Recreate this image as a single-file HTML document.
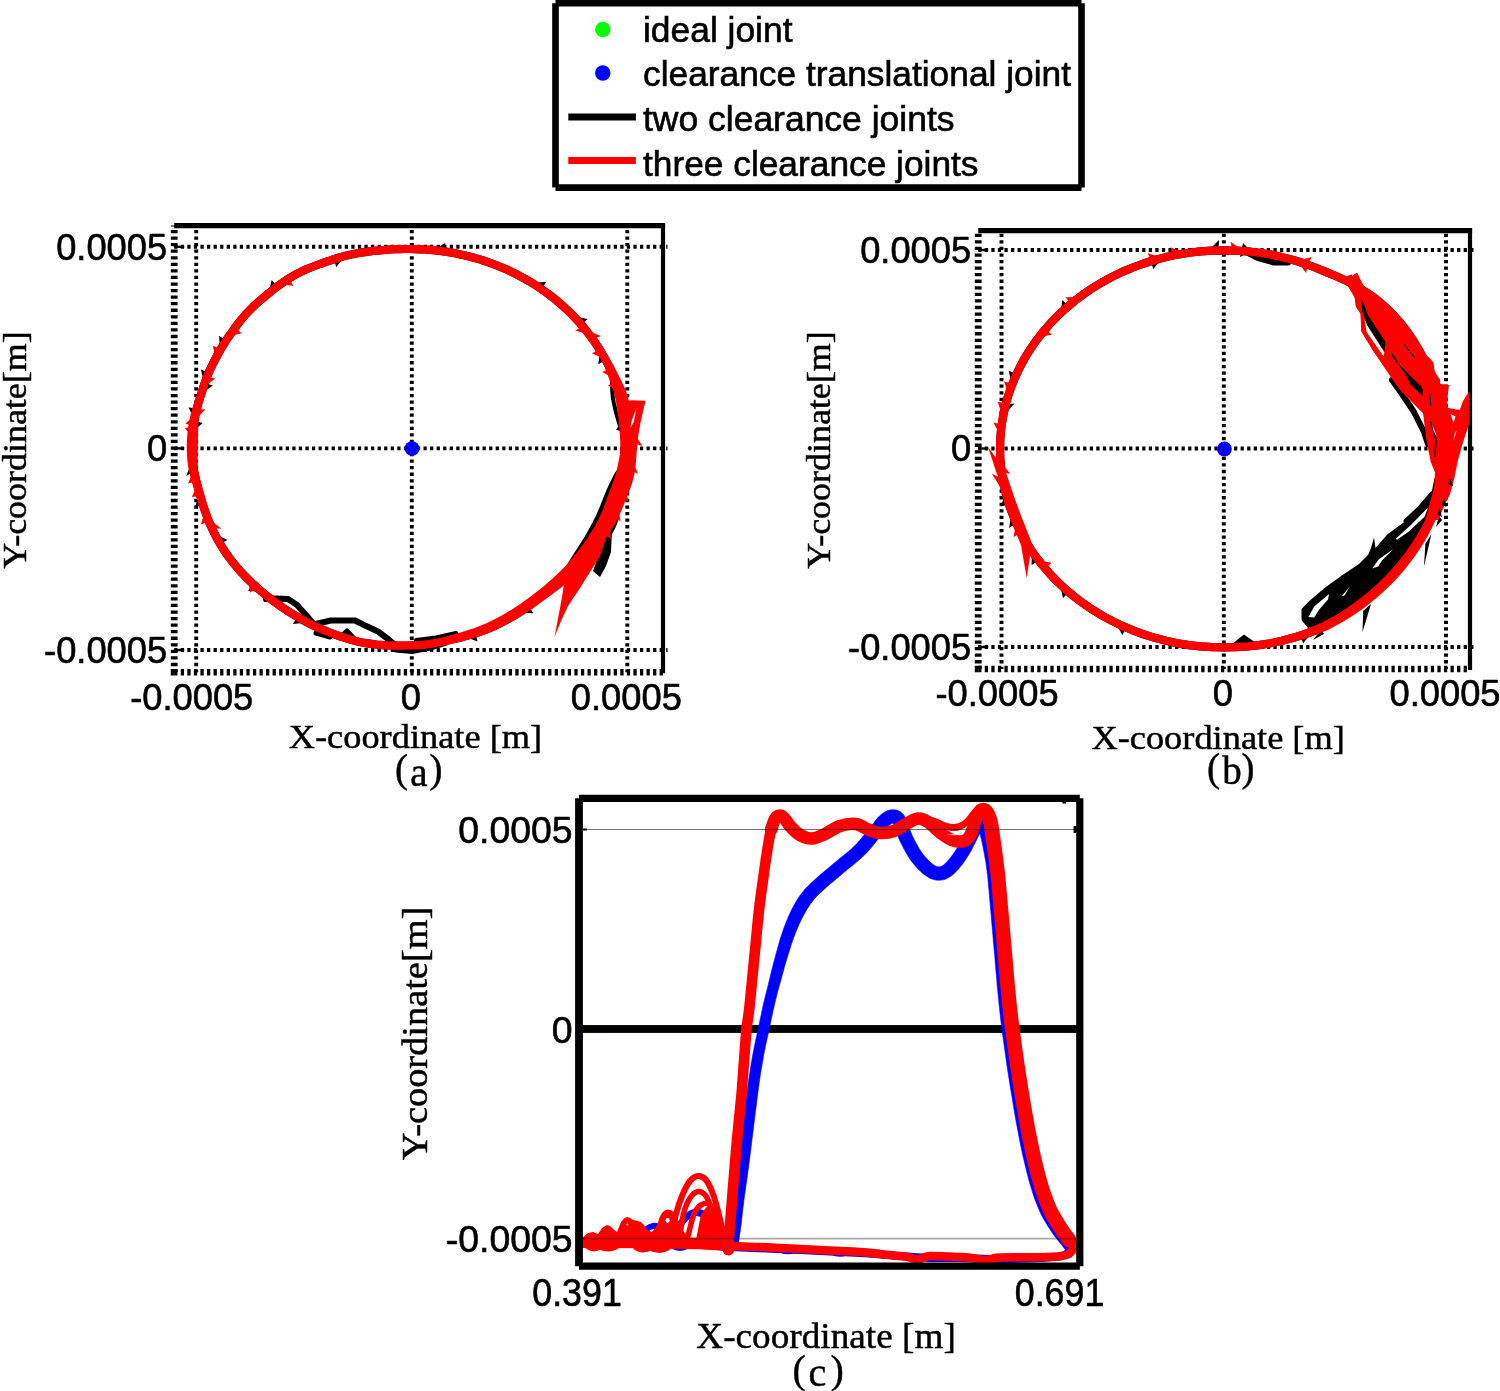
<!DOCTYPE html>
<html lang="en">
<head>
<meta charset="utf-8">
<title>Clearance joint trajectories</title>
<style>
html,body{margin:0;padding:0;background:#fff;}
body{width:1500px;height:1391px;overflow:hidden;}
svg{display:block;}
.sans{font-family:"Liberation Sans",Arial,Helvetica,sans-serif;fill:#000;stroke:#000;stroke-width:0.6;}
.serif{font-family:"Liberation Serif","Times New Roman",Times,serif;fill:#000;stroke:#000;stroke-width:0.45;}
.k{stroke:#000;fill:none;}
.r{stroke:#f00;fill:none;stroke-linejoin:round;stroke-linecap:round;}
.b{stroke:#00f;fill:none;stroke-linejoin:round;stroke-linecap:round;}
.kk{stroke:#000;fill:none;stroke-linejoin:round;stroke-linecap:round;}
.rf{fill:#f00;stroke:none;}
.kf{fill:#000;stroke:none;}
</style>
</head>
<body>
<svg width="1500" height="1391" viewBox="0 0 1500 1391">
<rect x="0" y="0" width="1500" height="1391" fill="#fff"/>

<g id="legend">
<path d="M555.5 3.3 H1081.5 M1081.5 3.3 V187.6 M1081.5 187.6 H555.5 M555.5 187.6 V3.3" fill="none" stroke="#000" stroke-width="6.6" stroke-linecap="butt"/>
<circle cx="602.8" cy="29.5" r="7.7" fill="#0f0"/>
<circle cx="602.8" cy="73" r="7.7" fill="#00f"/>
<line x1="568.3" y1="117" x2="635.9" y2="117" stroke="#000" stroke-width="6.9"/>
<line x1="568.3" y1="160.5" x2="635.9" y2="160.5" stroke="#f00" stroke-width="6.9"/>
<text class="sans" x="643" y="41.7" font-size="34.8" textLength="149.5" lengthAdjust="spacingAndGlyphs">ideal joint</text>
<text class="sans" x="643" y="86.3" font-size="34.8" textLength="428" lengthAdjust="spacingAndGlyphs">clearance translational joint</text>
<text class="sans" x="643" y="130.8" font-size="34.8" textLength="311.5" lengthAdjust="spacingAndGlyphs">two clearance joints</text>
<text class="sans" x="643" y="175.7" font-size="34.8" textLength="335.5" lengthAdjust="spacingAndGlyphs">three clearance joints</text>
</g>
<g id="axes-a">
<line class="k" x1="196.2" y1="225.6" x2="196.2" y2="672.3" stroke-width="3.9" stroke-dasharray="3.28 3.28" stroke-dashoffset="2.26"/>
<line class="k" x1="411.8" y1="225.6" x2="411.8" y2="672.3" stroke-width="3.9" stroke-dasharray="3.28 3.28" stroke-dashoffset="2.26"/>
<line class="k" x1="627.3" y1="225.6" x2="627.3" y2="672.3" stroke-width="3.9" stroke-dasharray="3.28 3.28" stroke-dashoffset="2.26"/>
<line class="k" x1="174.2" y1="246.8" x2="667.5" y2="246.8" stroke-width="3.9" stroke-dasharray="3.28 3.28"/>
<line class="k" x1="174.2" y1="448.4" x2="667.5" y2="448.4" stroke-width="3.9" stroke-dasharray="3.28 3.28"/>
<line class="k" x1="174.2" y1="650" x2="667.5" y2="650" stroke-width="3.9" stroke-dasharray="3.28 3.28"/>
<line class="k" x1="174.2" y1="246.8" x2="184.2" y2="246.8" stroke-width="2.4"/>
<line class="k" x1="174.2" y1="448.4" x2="184.2" y2="448.4" stroke-width="2.4"/>
<line class="k" x1="174.2" y1="650" x2="184.2" y2="650" stroke-width="2.4"/>
<line class="k" x1="174.2" y1="225.6" x2="665.1" y2="225.6" stroke-width="5.3"/>
<line class="k" x1="663" y1="223.1" x2="663" y2="673.3" stroke-width="4.2"/>
<line class="k" x1="174.2" y1="225.6" x2="174.2" y2="670.3" stroke-width="6.8" stroke-dasharray="3.28 3.28" stroke-dashoffset="2.26"/>
<line class="k" x1="174.2" y1="672.3" x2="663" y2="672.3" stroke-width="6.6" stroke-dasharray="3.28 3.28"/>
<path class="kf" d="M170.8 669 h6.8 v3.3 h-3.4 v3.3 h-3.4 Z"/>
<text class="sans" font-size="36.3" text-anchor="end" x="167.2" y="259.6">0.0005</text>
<text class="sans" font-size="36.3" text-anchor="end" x="167.2" y="460.7">0</text>
<text class="sans" font-size="36.3" text-anchor="end" x="167.2" y="662.8">-0.0005</text>
<text class="sans" font-size="36.3" x="130.2" y="709.6">-0.0005</text>
<text class="sans" font-size="36.3" text-anchor="middle" x="410.8" y="709.6">0</text>
<text class="sans" font-size="36.3" x="570.8" y="709.6">0.0005</text>
<text class="serif" font-size="34.6" x="288.7" y="747.9" textLength="253.5" lengthAdjust="spacingAndGlyphs">X-coordinate [m]</text>
<text class="serif" font-size="34.6" transform="translate(26 568.8) rotate(-90)" x="0" y="0" textLength="237.5" lengthAdjust="spacingAndGlyphs">Y-coordinate[m]</text>
<text class="serif" font-size="39" x="395 410.2 429.6" y="782.4 785.6 782.4">(a)</text>
</g>
<g id="axes-b">
<line class="k" x1="1001.5" y1="230.6" x2="1001.5" y2="669" stroke-width="3.9" stroke-dasharray="3.28 3.28" stroke-dashoffset="3.46"/>
<line class="k" x1="1223.8" y1="230.6" x2="1223.8" y2="669" stroke-width="3.9" stroke-dasharray="3.28 3.28" stroke-dashoffset="3.46"/>
<line class="k" x1="1446" y1="230.6" x2="1446" y2="669" stroke-width="3.9" stroke-dasharray="3.28 3.28" stroke-dashoffset="3.46"/>
<line class="k" x1="978.2" y1="250" x2="1474.5" y2="250" stroke-width="3.9" stroke-dasharray="3.28 3.28"/>
<line class="k" x1="978.2" y1="448.5" x2="1474.5" y2="448.5" stroke-width="3.9" stroke-dasharray="3.28 3.28"/>
<line class="k" x1="978.2" y1="647" x2="1474.5" y2="647" stroke-width="3.9" stroke-dasharray="3.28 3.28"/>
<line class="k" x1="978.2" y1="250" x2="988.2" y2="250" stroke-width="2.4"/>
<line class="k" x1="978.2" y1="448.5" x2="988.2" y2="448.5" stroke-width="2.4"/>
<line class="k" x1="978.2" y1="647" x2="988.2" y2="647" stroke-width="2.4"/>
<line class="k" x1="978.2" y1="230.6" x2="1472.1" y2="230.6" stroke-width="5.3"/>
<line class="k" x1="1470" y1="228.1" x2="1470" y2="670" stroke-width="4.2"/>
<line class="k" x1="978.2" y1="230.6" x2="978.2" y2="667" stroke-width="6.8" stroke-dasharray="3.28 3.28" stroke-dashoffset="3.46"/>
<line class="k" x1="978.2" y1="669" x2="1470" y2="669" stroke-width="6.6" stroke-dasharray="3.28 3.28"/>
<path class="kf" d="M974.8 665.7 h6.8 v3.3 h-3.4 v3.3 h-3.4 Z"/>
<text class="sans" font-size="36.3" text-anchor="end" x="971.2" y="262.8">0.0005</text>
<text class="sans" font-size="36.3" text-anchor="end" x="971.2" y="460.8">0</text>
<text class="sans" font-size="36.3" text-anchor="end" x="971.2" y="659.8">-0.0005</text>
<text class="sans" font-size="36.3" x="935.5" y="706.4">-0.0005</text>
<text class="sans" font-size="36.3" text-anchor="middle" x="1222.8" y="706.4">0</text>
<text class="sans" font-size="36.3" x="1389.5" y="706.4">0.0005</text>
<text class="serif" font-size="34.6" x="1091.4" y="749" textLength="253.5" lengthAdjust="spacingAndGlyphs">X-coordinate [m]</text>
<text class="serif" font-size="34.6" transform="translate(830 568.8) rotate(-90)" x="0" y="0" textLength="237.5" lengthAdjust="spacingAndGlyphs">Y-coordinate[m]</text>
<text class="serif" font-size="39" x="1207 1222.2 1241.6" y="781 784.2 781">(b)</text>
</g>
<g id="curve-a">
<path class="kk" stroke-width="8.2" d="M410 249 L415 249.1 L420.1 249.3 L425.2 249.5 L430.3 249.9 L435.3 250.4 L440.3 250.9 L445.3 251.6 L450.3 252.4 L455.3 253.3 L460.3 254.4 L465.2 255.5 L470.1 256.7 L474.9 258 L479.8 259.4 L484.6 261 L489.3 262.6 L494 264.3 L498.7 266.2 L503.3 268.1 L507.8 270.1 L512.3 272.2 L516.8 274.4 L521.2 276.8 L525.5 279.1 L529.8 281.6 L534 284.2 L538.1 286.9 L542.2 289.7 L546.2 292.5 L550.1 295.4 L554 298.4 L557.7 301.5 L561.4 304.7 L565 307.9 L568.6 311.3 L572 314.6 L575.3 318.1 L578.6 321.6 L581.8 325.3 L584.9 328.9 L587.8 332.7 L590.7 336.5 L593.5 340.3 L596.2 344.3 L598.9 348.4 L601.4 352.5 L603.7 356.5 L605.9 360.4 L608 364.3 L609.9 368.3 L611.6 372.2 L613.3 375.9 L614.8 379.5 L616.1 382.8 L617.3 385.7 L618.3 388.1 L619.2 390.3 L620 392.5 L620.7 395 L621.5 398 L622.3 401.5 L623 405.3 L623.7 409.3 L624.4 413.5 L625 417.8 L625.5 422 L626 426.3 L626.5 430.7 L626.9 435.2 L627.2 439.7 L627.5 444 L627.5 448 L627.3 451.8 L627 455.4 L626.6 458.9 L626 462.1 L625.5 465.2 L625 468 L624.6 470.4 L624.1 472.4 L623.7 474.2 L623.2 475.9 L622.7 477.8 L622 480 L621.2 482.5 L620.3 485.1 L619.3 487.9 L618.3 490.9 L617.2 493.9 L616 497 L614.8 500.3 L613.6 503.7 L612.3 507.3 L611 510.9 L609.6 514.5 L608 518 L606.3 521.5 L604.6 524.9 L602.7 528.4 L600.7 531.8 L598.7 535.3 L596.5 538.7 L594.2 542.2 L591.7 545.7 L589.1 549.2 L586.5 552.7 L583.8 556 L581.3 559.2 L578.9 562.1 L576.7 564.8 L574.4 567.3 L572.1 569.9 L569.6 572.5 L566.7 575.3 L563.5 578.3 L560.2 581.4 L556.6 584.6 L552.9 587.8 L548.9 591.1 L544.7 594.4 L540.2 597.8 L535.4 601.3 L530.5 604.9 L525.4 608.4 L520.3 611.8 L515.3 614.9 L510.4 617.8 L505.5 620.4 L500.6 623 L495.8 625.4 L490.9 627.6 L486 629.6 L481.1 631.4 L476.2 633.1 L471.4 634.5 L466.5 635.9 L461.6 637.2 L456.7 638.4 L451.8 639.6 L446.8 640.8 L441.9 641.8 L436.9 642.8 L432.1 643.6 L427.3 644.3 L422.5 644.8 L417.8 645.2 L413.1 645.4 L408.5 645.5 L404.1 645.6 L400 645.6 L396.3 645.6 L392.8 645.6 L389.6 645.5 L386.5 645.3 L383.3 645.1 L380 644.8 L376.5 644.5 L373 644.1 L369.5 643.6 L365.9 643.1 L362.3 642.5 L358.6 641.7 L354.9 640.8 L351.1 639.8 L347.2 638.6 L343.3 637.4 L339.4 636.1 L335.3 634.6 L331.1 633 L326.9 631.4 L322.5 629.6 L318.1 627.7 L313.7 625.7 L309.4 623.6 L305 621.3 L300.6 618.8 L296.1 616.1 L291.7 613.4 L287.5 610.7 L283.5 608.1 L279.7 605.5 L276.1 603 L272.7 600.4 L269.3 597.9 L266 595.3 L262.8 592.6 L259.6 589.9 L256.5 587.1 L253.4 584.4 L250.4 581.6 L247.5 578.7 L244.7 575.8 L241.9 572.9 L239.2 569.9 L236.6 566.9 L234.1 563.9 L231.6 560.8 L229.2 557.6 L226.9 554.3 L224.6 551 L222.4 547.6 L220.2 544.1 L218.2 540.5 L216.2 536.9 L214.3 533.2 L212.5 529.4 L210.7 525.6 L209 521.6 L207.4 517.7 L205.9 513.6 L204.4 509.4 L203 505 L201.6 500.5 L200.4 496 L199.2 491.8 L198.1 487.8 L197.1 484.2 L196.2 480.8 L195.4 477.5 L194.7 474.4 L194.1 471.2 L193.6 468 L193.2 464.7 L192.8 461.3 L192.6 458 L192.4 454.7 L192.3 451.3 L192.3 448 L192.3 444.6 L192.4 441.3 L192.6 437.9 L192.8 434.5 L193.1 431.2 L193.4 428 L193.8 424.9 L194.2 421.8 L194.8 418.8 L195.3 415.9 L195.9 412.9 L196.6 410 L197.3 407.1 L198 404.4 L198.8 401.6 L199.7 398.8 L200.5 396 L201.5 393 L202.5 389.9 L203.5 386.7 L204.6 383.4 L205.8 380.1 L207 376.8 L208.4 373.4 L209.9 370 L211.6 366.5 L213.3 363 L215.1 359.5 L217 356 L218.8 352.7 L220.6 349.5 L222.3 346.5 L224.1 343.6 L226 340.6 L228 337.5 L230.3 334.3 L232.8 330.9 L235.4 327.2 L238.2 323.5 L241.1 319.8 L244.2 316.1 L247.5 312.5 L251 308.9 L254.7 305.3 L258.6 301.8 L262.6 298.3 L266.6 295 L270.5 291.8 L274.3 288.8 L278.2 285.9 L282 283.1 L285.8 280.5 L289.7 278 L293.5 275.7 L297.2 273.6 L300.8 271.8 L304.4 270.1 L308.2 268.5 L312.1 267 L316.5 265.3 L321.3 263.5 L326.6 261.7 L332.1 259.8 L337.7 258 L343.3 256.4 L348.7 255 L354 253.9 L359.2 252.9 L364.5 252.1 L369.7 251.4 L374.9 250.8 L380 250.3 L385.1 249.8 L390.1 249.5 L395.1 249.2 L400 249.1 L405 249 Z"/>
<path class="kk" stroke-width="6" d="M266 599 L276 598.5 L288 599 L297 605 L306 615 L314 624.5 L322 622.5 L331 620.5 L355 620.5 L364 625 L378 631.5 L388 639 L396 645.5"/>
<path class="kk" stroke-width="5" d="M340 638 L347 631 L356 641"/>
<path class="kk" stroke-width="5" d="M316 633 L330 637"/>
<path class="kk" stroke-width="5" d="M396 650 L412 651.5 L430 648 L446 643"/>
<path class="kk" stroke-width="4" d="M416 640 L436 637.5 L456 633"/>
<path class="kk" stroke-width="5" d="M626.6 458.9 L624 461.8 L622.5 464.7 L621.2 467.3 L620 469.5 L619 471.3 L618.1 472.7 L617.1 474.2 L616.2 475.8 L615.1 477.8 L614 480.1 L612.8 482.5 L611.5 485.2 L610.2 487.9 L608.9 490.8 L607.6 493.9 L606.2 497.2 L604.9 500.6 L603.5 504 L602.2 507.5 L600.8 510.8 L599.4 514 L597.9 517.3 L596.2 520.6 L594.6 523.9 L592.8 527.2 L591 530.5 L589.1 533.9 L587.1 537.3 L585 540.9 L582.7 544.5 L580.4 548 L578.2 551.5 L576 554.9 L574 558 L572.2 561 L570.5 563.8 L568.7 566.7 L566.8 569.7 L564.6 573.1 L562.2 576.8 L560.2 581.4"/>
<path class="kk" stroke-width="4" d="M613.3 375.9 L612 380.7 L612 384.5 L612.1 387.8 L612.3 390.5 L612.4 392.8 L612.6 395 L612.8 397.2 L613.3 400 L613.9 403.2 L614.7 406.8 L615.6 410.7 L616.7 414.7 L617.8 418.7 L619 422.8 L620.4 426.9 L622 431.2 L623.9 435.5 L627.2 439.7"/>
<path class="kf" d="M616 430 L621 422 L622 431 Z"/>
<path class="kf" d="M601 548 L612 530 L611 552 L606 566 L600 577 L593 571 Z"/>
<path class="kk" stroke-width="4" d="M614.8 500.3 L617.1 504.9 L617.5 509.1 L617.3 513.3 L616.7 517.5 L615.7 521.5 L614.3 525.4 L612.5 529.1 L610.5 532.7 L608 536.1 L605.3 539.3 L602.2 542.4 L598.7 545.3 L594.7 547.8 L589.1 549.2"/>
<path class="kf" d="M190.5 464.4 L186.2 476.3 L191.7 472.3 Z"/>
<path class="kf" d="M206.2 372.1 L200.9 369.2 L203.2 379.6 Z"/>
<path class="kf" d="M194.3 408.5 L188.5 407.2 L192.7 416.3 Z"/>
<path class="kf" d="M224.1 338.9 L219 335.7 L219.9 345.6 Z"/>
<path class="kf" d="M276 284.4 L271.7 280.1 L269.6 289.2 Z"/>
<path class="kf" d="M342.2 259.3 L336.3 267.3 L334.6 261.6 Z"/>
<path class="kf" d="M207.2 383.7 L212.8 385.6 L204.6 391.3 Z"/>
<path class="kf" d="M196.8 421.2 L202.6 422.9 L195.7 429.2 Z"/>
<path class="kf" d="M542.9 287 L546.2 282 L536.2 282.6 Z"/>
<path class="kf" d="M583.1 322.9 L587.6 318.9 L577.8 317 Z"/>
<path class="kf" d="M251.8 586.3 L247.8 590.8 L257.8 591.7 Z"/>
<path class="kf" d="M468.2 638.1 L477.6 641.6 L475.9 635.8 Z"/>
<path class="kf" d="M523.4 612.8 L533.4 613.3 L530.1 608.3 Z"/>
<path class="kf" d="M603.6 361.2 L598.3 364.2 L599.6 354.3 Z"/>
<path class="kf" d="M617.5 392.7 L611.6 394.2 L614.5 385.3 Z"/>
<path class="kf" d="M198.1 497.4 L194.9 507.5 L200.4 505 Z"/>
<path class="kf" d="M218.4 535.8 L227.6 539.9 L222.3 542.8 Z"/>
<path class="kf" d="M295.9 618.9 L292.9 624.1 L302.8 622.9 Z"/>
<path class="kf" d="M444.6 249 L445.4 243 L436.7 247.9 Z"/>
<path class="r" stroke-width="8.2" d="M410 249 L415 249.1 L420.1 249.3 L425.2 249.5 L430.3 249.9 L435.3 250.4 L440.3 250.9 L445.3 251.6 L450.3 252.4 L455.3 253.3 L460.3 254.4 L465.2 255.5 L470.1 256.7 L474.9 258 L479.8 259.4 L484.6 261 L489.3 262.6 L494 264.3 L498.7 266.2 L503.3 268.1 L507.8 270.1 L512.3 272.2 L516.8 274.4 L521.2 276.8 L525.5 279.1 L529.8 281.6 L534 284.2 L538.1 286.9 L542.2 289.7 L546.2 292.5 L550.1 295.4 L554 298.4 L557.7 301.5 L561.4 304.7 L565 307.9 L568.6 311.3 L572 314.6 L575.3 318.1 L578.6 321.6 L581.8 325.3 L584.9 328.9 L587.8 332.7 L590.7 336.5 L593.5 340.3 L596.2 344.3 L598.9 348.4 L601.4 352.5 L603.7 356.5 L605.9 360.4 L608 364.3 L609.9 368.3 L611.6 372.2 L613.3 375.9 L614.8 379.5 L616.1 382.8 L617.3 385.7 L618.3 388.1 L619.2 390.3 L620 392.5 L620.7 395 L621.5 398 L622.3 401.5 L623 405.3 L623.7 409.3 L624.4 413.5 L625 417.8 L625.5 422 L626 426.3 L626.5 430.7 L626.9 435.2 L627.2 439.7 L627.5 444 L627.5 448 L627.3 451.8 L627 455.4 L626.6 458.9 L626 462.1 L625.5 465.2 L625 468 L624.6 470.4 L624.1 472.4 L623.7 474.2 L623.2 475.9 L622.7 477.8 L622 480 L621.2 482.5 L620.3 485.1 L619.3 487.9 L618.3 490.9 L617.2 493.9 L616 497 L614.8 500.3 L613.6 503.7 L612.3 507.3 L611 510.9 L609.6 514.5 L608 518 L606.3 521.5 L604.6 524.9 L602.7 528.4 L600.7 531.8 L598.7 535.3 L596.5 538.7 L594.2 542.2 L591.7 545.7 L589.1 549.2 L586.5 552.7 L583.8 556 L581.3 559.2 L578.9 562.1 L576.7 564.8 L574.4 567.3 L572.1 569.9 L569.6 572.5 L566.7 575.3 L563.5 578.3 L560.2 581.4 L556.6 584.6 L552.9 587.8 L548.9 591.1 L544.7 594.4 L540.2 597.8 L535.4 601.3 L530.5 604.9 L525.4 608.4 L520.3 611.8 L515.3 614.9 L510.4 617.8 L505.5 620.4 L500.6 623 L495.8 625.4 L490.9 627.6 L486 629.6 L481.1 631.4 L476.2 633.1 L471.4 634.5 L466.5 635.9 L461.6 637.2 L456.7 638.4 L451.8 639.6 L446.8 640.8 L441.9 641.8 L436.9 642.8 L432.1 643.6 L427.3 644.3 L422.5 644.8 L417.8 645.2 L413.1 645.4 L408.5 645.5 L404.1 645.6 L400 645.6 L396.3 645.6 L392.8 645.6 L389.6 645.5 L386.5 645.3 L383.3 645.1 L380 644.8 L376.5 644.5 L373 644.1 L369.5 643.6 L365.9 643.1 L362.3 642.5 L358.6 641.7 L354.9 640.8 L351.1 639.8 L347.2 638.6 L343.3 637.4 L339.4 636.1 L335.3 634.6 L331.1 633 L326.9 631.4 L322.5 629.6 L318.1 627.7 L313.7 625.7 L309.4 623.6 L305 621.3 L300.6 618.8 L296.1 616.1 L291.7 613.4 L287.5 610.7 L283.5 608.1 L279.7 605.5 L276.1 603 L272.7 600.4 L269.3 597.9 L266 595.3 L262.8 592.6 L259.6 589.9 L256.5 587.1 L253.4 584.4 L250.4 581.6 L247.5 578.7 L244.7 575.8 L241.9 572.9 L239.2 569.9 L236.6 566.9 L234.1 563.9 L231.6 560.8 L229.2 557.6 L226.9 554.3 L224.6 551 L222.4 547.6 L220.2 544.1 L218.2 540.5 L216.2 536.9 L214.3 533.2 L212.5 529.4 L210.7 525.6 L209 521.6 L207.4 517.7 L205.9 513.6 L204.4 509.4 L203 505 L201.6 500.5 L200.4 496 L199.2 491.8 L198.1 487.8 L197.1 484.2 L196.2 480.8 L195.4 477.5 L194.7 474.4 L194.1 471.2 L193.6 468 L193.2 464.7 L192.8 461.3 L192.6 458 L192.4 454.7 L192.3 451.3 L192.3 448 L192.3 444.6 L192.4 441.3 L192.6 437.9 L192.8 434.5 L193.1 431.2 L193.4 428 L193.8 424.9 L194.2 421.8 L194.8 418.8 L195.3 415.9 L195.9 412.9 L196.6 410 L197.3 407.1 L198 404.4 L198.8 401.6 L199.7 398.8 L200.5 396 L201.5 393 L202.5 389.9 L203.5 386.7 L204.6 383.4 L205.8 380.1 L207 376.8 L208.4 373.4 L209.9 370 L211.6 366.5 L213.3 363 L215.1 359.5 L217 356 L218.8 352.7 L220.6 349.5 L222.3 346.5 L224.1 343.6 L226 340.6 L228 337.5 L230.3 334.3 L232.8 330.9 L235.4 327.2 L238.2 323.5 L241.1 319.8 L244.2 316.1 L247.5 312.5 L251 308.9 L254.7 305.3 L258.6 301.8 L262.6 298.3 L266.6 295 L270.5 291.8 L274.3 288.8 L278.2 285.9 L282 283.1 L285.8 280.5 L289.7 278 L293.5 275.7 L297.2 273.6 L300.8 271.8 L304.4 270.1 L308.2 268.5 L312.1 267 L316.5 265.3 L321.3 263.5 L326.6 261.7 L332.1 259.8 L337.7 258 L343.3 256.4 L348.7 255 L354 253.9 L359.2 252.9 L364.5 252.1 L369.7 251.4 L374.9 250.8 L380 250.3 L385.1 249.8 L390.1 249.5 L395.1 249.2 L400 249.1 L405 249 Z"/>
<path class="r" stroke-width="7" d="M605.9 360.4 L607.5 364.6 L609.1 368.6 L610.6 372.6 L612 376.5 L613.3 380.1 L614.5 383.5 L615.6 386.4 L616.4 388.8 L617.2 391.1 L617.8 393.3 L618.4 395.7 L619 398.6 L619.6 402 L620.2 405.8 L620.8 409.8 L621.4 414 L621.9 418.2 L622.3 422.4 L622.7 426.7 L623.1 431.1 L623.4 435.5 L623.7 439.9 L623.8 444.1 L623.8 448 L623.6 451.5 L623.2 455 L622.7 458.3 L622.1 461.5 L621.5 464.5 L621 467.3 L620.5 469.6 L620.1 471.5 L619.6 473.1 L619.1 474.7 L618.6 476.6 L617.9 478.7 L617.1 481.1 L616.1 483.7 L615.2 486.5 L614.1 489.3 L613 492.3 L611.8 495.5 L610.6 498.8 L609.4 502.2 L608.1 505.7 L606.8 509.3 L605.4 512.7 L603.9 516.1 L602.3 519.5 L600.6 522.8 L598.8 526.2 L596.9 529.6 L594.9 532.9 L592.8 536.3 L590.6 539.7 L588.1 543.2 L585.6 546.6 L583.1 550.1 L580.5 553.4 L578 556.5 L575.7 559.4 L573.5 562.1 L571.4 564.6 L569.2 567.1 L566.7 569.7 L564 572.5 L560.9 575.5 L557.6 578.6 L554.2 581.8 L550.5 585 L546.6 588.3 L542.6 591.6 L538.2 595.1 L533.5 598.7 L528.6 602.3 L523.6 605.9 L518.6 609.3 L513.8 612.4 L509 615.3 L504.3 618.1 L499.5 620.7 L494.7 623.1 L490 625.4 L485.2 627.6 L480.4 629.5 L475.7 631.3 L470.9 632.9 L466.1 634.4 L461.3 635.9 L456.4 637.3 L451.6 638.7 L446.7 640.2 L441.9 641.8"/>
<path class="r" stroke-width="7" d="M605.9 360.4 L608.6 364 L610.8 367.8 L612.8 371.6 L614.7 375.3 L616.4 378.8 L618 382 L619.3 384.8 L620.5 387.2 L621.5 389.4 L622.5 391.7 L623.4 394.3 L624.4 397.3 L625.3 400.8 L626.2 404.7 L627 408.8 L627.8 413 L628.5 417.3 L629.1 421.6 L629.7 425.9 L630.3 430.4 L630.8 434.9 L631.2 439.5 L631.5 443.9 L631.6 448.1 L631.5 452 L631.2 455.9 L630.8 459.5 L630.3 462.9 L629.8 466 L629.3 468.8 L628.9 471.2 L628.5 473.4 L628 475.3 L627.6 477.2 L627 479.1 L626.3 481.4 L625.5 483.9 L624.5 486.6 L623.5 489.4 L622.5 492.4 L621.3 495.4 L620.2 498.5 L619 501.7 L617.7 505.2 L616.4 508.7 L615 512.4 L613.5 516.1 L611.8 519.7 L610 523.3 L608.1 526.8 L606.2 530.3 L604.1 533.8 L601.9 537.3 L599.6 540.7 L597.2 544.2 L594.6 547.8 L591.8 551.3 L589.1 554.7 L586.3 558 L583.7 561.1 L581.2 564 L578.8 566.6 L576.4 569.1 L573.9 571.6 L571.2 574.1 L568.2 576.9 L564.9 579.7 L561.4 582.7 L557.7 585.7 L553.7 588.8 L549.5 591.9 L545.1 594.9 L540.2 597.8"/>
<path class="r" stroke-width="6" d="M622.3 401.5 L624.5 405 L625.9 409 L627.2 413.1 L628.4 417.3 L629.4 421.5 L630.3 425.8 L631.2 430.3 L632 434.8 L632.6 439.4 L633.1 443.8 L633.5 448.1 L633.6 452.2 L633.4 456.1 L633.1 459.8 L632.8 463.3 L632.4 466.4 L632 469.3 L631.7 471.8 L631.3 474 L630.9 476 L630.4 478 L629.8 480 L629.2 482.3 L628.3 484.9 L627.3 487.6 L626.3 490.4 L625.1 493.4 L623.9 496.4 L622.7 499.4 L621.4 502.6 L620 506 L618.6 509.5 L617 513.2 L615.3 516.9 L613.4 520.5 L611.4 524 L609.3 527.4 L607.1 530.8 L604.8 534.2 L602.3 537.5 L599.8 540.8 L597 544.1 L594 547.4 L590.9 550.6 L587.6 553.6 L583.8 556"/>
<path class="r" stroke-width="6" d="M201.6 500.5 L199.8 496.2 L198.3 492 L197 488.1 L195.8 484.5 L194.7 481.2 L193.7 477.9 L192.9 474.8 L192.1 471.6 L191.5 468.3 L190.9 464.9 L190.5 461.5 L190.2 458.2 L190 454.8 L189.9 451.4 L189.8 448 L189.8 444.6 L189.9 441.2 L190.1 437.7 L190.4 434.3 L190.7 431 L191.1 427.7 L191.6 424.6 L192.1 421.5 L192.8 418.5 L193.5 415.5 L194.2 412.5 L195 409.6 L195.9 406.8 L196.9 404 L197.9 401.3 L199.1 398.6 L200.5 396"/>
<path class="r" stroke-width="6" d="M194.1 471.2 L194.5 467.9 L194.6 464.5 L194.6 461.2 L194.6 457.9 L194.7 454.6 L194.7 451.3 L194.8 448 L194.8 444.7 L194.9 441.3 L194.9 438 L195 434.7 L195.1 431.4 L195.1 428.2 L195.2 425.1 L195.2 422 L194.8 418.8"/>
<path class="rf" d="M624 404 L631 400.3 L645.5 400.8 L641 420 L638.5 434 L636.5 450 L634 464 L628 458 L627 430 Z"/>
<path d="M631.6 421 L636.6 407.5 L633.6 422.5 L630.2 428 Z" fill="#fff"/>
<path class="rf" d="M554.5 637 L561.5 600 L564 584 L590 546 L606 538 L600 556 L580 588 L568 606 L561 621 Z"/>
<path class="rf" d="M199.2 409.5 L205.4 409.2 L197.5 417.4 Z"/>
<path class="rf" d="M191 427 L184.8 428 L190.2 435 Z"/>
<path class="rf" d="M192.4 417.5 L185.4 423.6 L191.2 425.4 Z"/>
<path class="rf" d="M209.5 377.2 L215.4 378.5 L206.7 384.7 Z"/>
<path class="rf" d="M218.6 348 L212.9 345.8 L214.7 355 Z"/>
<path class="rf" d="M290.5 280.3 L293.2 285.8 L283.9 284.8 Z"/>
<path class="rf" d="M192.1 474.2 L188.1 483.4 L193.9 482 Z"/>
<path class="rf" d="M195.7 488.6 L191.8 497.1 L197.8 496.3 Z"/>
<path class="rf" d="M211.4 520.9 L221.4 528.7 L214.6 528.2 Z"/>
<path class="rf" d="M203.7 514.8 L201 524.5 L206.6 522.3 Z"/>
<path class="rf" d="M585.5 333.6 L575.2 330.6 L580.4 327.4 Z"/>
<path class="rf" d="M595.1 338.2 L600.9 335.9 L590.4 331.8 Z"/>
<path class="rf" d="M601.3 357.2 L592 353.4 L597.2 350.3 Z"/>
<path class="rf" d="M611 376.8 L602.3 372 L607.7 369.5 Z"/>
<path class="rf" d="M616.5 390.3 L607.9 385.2 L613.5 382.9 Z"/>
<path class="rf" d="M248.8 583.5 L250 592.8 L254.7 588.9 Z"/>
<path class="rf" d="M237.1 329.1 L241.5 333.2 L232.4 335.6 Z"/>
<path class="rf" d="M635.5 443.7 L642.4 446 L635 434.7 Z"/>
<path class="rf" d="M631.6 470.8 L638 473.8 L633.2 462 Z"/>
<path class="rf" d="M622.8 497.3 L628.3 502.1 L625.9 488.8 Z"/>
<path class="rf" d="M614.9 517.3 L620.6 521.4 L618.2 508.9 Z"/>
<path class="rf" d="M605.3 535 L610.8 539 L609.7 527.1 Z"/>
<circle cx="412" cy="448.6" r="7.4" fill="#00f"/>
</g>
<g id="curve-b">
<path class="kk" stroke-width="8.2" d="M1224 250.3 L1235.7 250.6 L1247.4 251.4 L1259 252.7 L1270.6 254.6 L1282 257.1 L1293.2 260 L1304.3 263.5 L1315.1 267.5 L1325.7 271.9 L1336.4 276.2 L1346.9 281.1 L1357.1 286.5 L1366.8 292.6 L1376 299.2 L1384.6 306.5 L1392.7 314.3 L1400.1 322.5 L1406.8 331.1 L1413 340.1 L1418.5 349.3 L1423.6 358.7 L1428.6 368.1 L1433.1 377.7 L1437 387.5 L1440.4 397.5 L1443.1 407.6 L1445.2 417.8 L1446.8 428.1 L1447.7 438.5 L1448 448.9 L1447.3 459.3 L1446 469.6 L1444 479.8 L1441.5 489.9 L1438.5 499.9 L1434.9 509.7 L1430.8 519.3 L1426.1 528.7 L1421 537.9 L1415.3 546.8 L1409.3 555.6 L1402.7 564 L1395.8 572.2 L1388.4 580.1 L1380.5 587.7 L1372.3 595 L1363.7 601.9 L1354.8 608.5 L1345.4 614.7 L1335.7 620.5 L1325.7 625.9 L1315.1 630.3 L1304.3 634.3 L1293.2 637.8 L1282 640.7 L1270.6 643.2 L1259 645.1 L1247.4 646.4 L1235.7 647.2 L1224 647.5 L1212.3 647.2 L1200.6 646.4 L1189 645.1 L1177.4 643.2 L1166 640.7 L1154.8 637.8 L1143.7 634.3 L1132.9 630.3 L1122.3 625.9 L1112 620.9 L1102 615.5 L1092.3 609.6 L1083 603.2 L1074.1 596.5 L1065.6 589.3 L1057.5 581.8 L1049.9 573.9 L1042.8 565.6 L1036.1 557.1 L1030 548.2 L1024.4 539.1 L1019.4 529.7 L1014.9 520.1 L1011 510.3 L1007.6 500.3 L1004.9 490.2 L1002.8 480 L1001.2 469.7 L1000.3 459.3 L1000 448.9 L1000.3 438.5 L1001.2 428.1 L1002.8 417.8 L1004.9 407.6 L1007.6 397.5 L1011 387.5 L1014.9 377.7 L1019.4 368.1 L1024.4 358.7 L1030 349.6 L1036.1 340.7 L1042.8 332.2 L1049.9 323.9 L1057.5 316 L1065.6 308.5 L1074.1 301.3 L1083 294.6 L1092.3 288.2 L1102 282.3 L1112 276.9 L1122.3 271.9 L1132.9 267.5 L1143.7 263.5 L1154.8 260 L1166 257.1 L1177.4 254.6 L1189 252.7 L1200.6 251.4 L1212.3 250.6 Z"/>
<path class="kf" stroke="#000" stroke-width="2" stroke-linejoin="round" d="M1301.5 620 L1301.5 609 L1309.6 600.8 L1324.5 588.1 L1341.8 575.5 L1359 564 L1368.2 554.8 L1371 548 L1374 537.5 L1375.5 548 L1387.8 534.1 L1405 521.4 L1422.3 503 L1431.5 492.7 L1434.5 478 L1444 488 L1434 514 L1422 538 L1405 562 L1388 582 L1360 605 L1325 623 L1308 628 Z"/>
<path d="M1308.4 616.9 L1314.2 606.5 L1329.1 593.9 L1328 599.6 L1318.8 610 L1314.2 617.4 Z" fill="#fff"/>
<path d="M1341.8 596.2 L1349.8 586.4 L1344.6 595.4 Z" fill="#fff"/>
<path d="M1372.2 568.6 L1378.6 559.4 L1393.5 549 L1382 560.5 L1378.2 566.6 Z" fill="#fff"/>
<path d="M1395.8 538.7 L1410.8 524.9 L1428 507.6 L1424.6 516.8 L1408.5 531.8 L1397 539.8 Z" fill="#fff"/>
<path d="M1345.2 610.4 L1349.8 606.5 L1348.9 610.4 Z" fill="#fff"/>
<path class="kk" stroke-width="1.6" d="M1330.5 593 L1331.5 600"/>
<path class="kf" d="M1362.5 632 L1363.2 611 L1371 604 Z"/>
<path class="kf" d="M1424 566.5 L1425.4 544 L1431.4 534 Z"/>
<path class="kf" d="M1306 640 L1311 625 L1316 628 Z"/>
<path class="kf" d="M1313 640 L1321 630 L1324 634 Z"/>
<path class="kf" d="M1436 527 L1439 516 L1442 520 Z"/>
<path class="kf" d="M1232 644 L1244 634.5 L1256 643 Z"/>
<path class="kk" stroke-width="6" d="M1244 251 L1258 258 L1274 262.5 L1288 262.5"/>
<path class="kf" d="M1212 247 L1219 240 L1218.5 251 Z"/>
<path class="kf" d="M1240 257 L1243 243 L1251 251 Z"/>
<path class="kk" stroke-width="6" d="M1392 380 L1402 394 L1414 412 L1424 432 L1428 444"/>
<path class="kk" stroke-width="5" d="M1406 521 L1420 508 L1432 494"/>
<path class="kf" d="M1008.3 404.3 L1014.7 403.4 L1006.4 412.1 Z"/>
<path class="kf" d="M1014.2 373.1 L1008.7 370.7 L1011 380.4 Z"/>
<path class="kf" d="M1066.9 303.9 L1062.4 300 L1061 309.3 Z"/>
<path class="kf" d="M1004.1 497.2 L1000.7 506.6 L1006.4 504.9 Z"/>
<path class="kf" d="M1061 588.5 L1063 598.3 L1066.9 593.9 Z"/>
<path class="kf" d="M1117.6 626.5 L1122.5 635.2 L1124.9 629.8 Z"/>
<path class="kf" d="M1159.3 261.3 L1153.3 269.3 L1151.6 263.5 Z"/>
<path class="kf" d="M1301.3 638 L1303.2 643.6 L1308.9 635.4 Z"/>
<path class="kf" d="M1011 517.4 L1009 527.9 L1014.2 524.7 Z"/>
<path class="kf" d="M1031.8 555.3 L1031.6 565.3 L1036.5 561.8 Z"/>
<path class="r" stroke-width="8.2" d="M1224 250.3 L1235.7 250.6 L1247.4 251.4 L1259 252.7 L1270.6 254.6 L1282 257.1 L1293.2 260 L1304.3 263.5 L1315.1 267.5 L1325.7 271.9 L1336.4 276.2 L1346.9 281.1 L1357.1 286.5 L1366.8 292.6 L1376 299.2 L1384.6 306.5 L1392.7 314.3 L1400.1 322.5 L1406.8 331.1 L1413 340.1 L1418.5 349.3 L1423.6 358.7 L1428.6 368.1 L1433.1 377.7 L1437 387.5 L1440.4 397.5 L1443.1 407.6 L1445.2 417.8 L1446.8 428.1 L1447.7 438.5 L1448 448.9 L1447.3 459.3 L1446 469.6 L1444 479.8 L1441.5 489.9 L1438.5 499.9 L1434.9 509.7 L1430.8 519.3 L1426.1 528.7 L1421 537.9 L1415.3 546.8 L1409.3 555.6 L1402.7 564 L1395.8 572.2 L1388.4 580.1 L1380.5 587.7 L1372.3 595 L1363.7 601.9 L1354.8 608.5 L1345.4 614.7 L1335.7 620.5 L1325.7 625.9 L1315.1 630.3 L1304.3 634.3 L1293.2 637.8 L1282 640.7 L1270.6 643.2 L1259 645.1 L1247.4 646.4 L1235.7 647.2 L1224 647.5 L1212.3 647.2 L1200.6 646.4 L1189 645.1 L1177.4 643.2 L1166 640.7 L1154.8 637.8 L1143.7 634.3 L1132.9 630.3 L1122.3 625.9 L1112 620.9 L1102 615.5 L1092.3 609.6 L1083 603.2 L1074.1 596.5 L1065.6 589.3 L1057.5 581.8 L1049.9 573.9 L1042.8 565.6 L1036.1 557.1 L1030 548.2 L1024.4 539.1 L1019.4 529.7 L1014.9 520.1 L1011 510.3 L1007.6 500.3 L1004.9 490.2 L1002.8 480 L1001.2 469.7 L1000.3 459.3 L1000 448.9 L1000.3 438.5 L1001.2 428.1 L1002.8 417.8 L1004.9 407.6 L1007.6 397.5 L1011 387.5 L1014.9 377.7 L1019.4 368.1 L1024.4 358.7 L1030 349.6 L1036.1 340.7 L1042.8 332.2 L1049.9 323.9 L1057.5 316 L1065.6 308.5 L1074.1 301.3 L1083 294.6 L1092.3 288.2 L1102 282.3 L1112 276.9 L1122.3 271.9 L1132.9 267.5 L1143.7 263.5 L1154.8 260 L1166 257.1 L1177.4 254.6 L1189 252.7 L1200.6 251.4 L1212.3 250.6 Z"/>
<path class="rf" stroke="#f00" stroke-width="1.5" stroke-linejoin="round" d="M1346 277 L1352 276 L1357 272.5 L1364.5 287.7 L1378.5 298.5 L1390.4 307.2 L1400 318 L1408.7 329.8 L1417.4 341.7 L1424.9 353.5 L1433.5 362.2 L1434.6 371.9 L1440 379.4 L1440.4 384 L1449 385.1 L1447.5 398 L1446.9 407.7 L1459.8 409.9 L1463 401 L1469 391.6 L1469 423.9 L1462 445.5 L1457.6 461.7 L1454.4 477.8 L1450.1 494 L1444.7 504.8 L1438.2 520 L1425.3 520 L1430.7 499.4 L1434 488.6 L1435 472.4 L1430.7 461.7 L1426.4 440.1 L1423 413.1 L1401.6 391.6 L1394.7 382.6 L1383.9 366.5 L1373.1 350.3 L1361.3 330.9 L1360.7 312.5 L1355.9 306.1 L1354.8 296.4 L1347.3 285.6 Z"/>
<path class="r" stroke-width="5.5" d="M1350 284 L1357.3 297 L1358.6 306 L1363.2 313 L1364 330.5 L1375.5 349.5 L1386.5 365.5 L1397.5 381.5 L1404 390 L1425 411"/>
<path class="kf" d="M1361.3 297.5 L1367.7 314.7 L1385.5 341.7 L1384.5 351.4 L1367.2 325.5 L1362.2 311 Z"/>
<path class="kf" d="M1391 350.8 L1399 364.3 L1421.7 387 L1422.2 393.4 L1407.6 377.3 L1392.5 357 Z"/>
<path class="kf" d="M1404.8 372 L1423 389.4 L1422.5 396 L1410 384 Z"/>
<path d="M1364.6 319 L1367.2 325.5 L1384.3 352.3 L1383.6 356.5 L1366.6 332 Z" fill="#fff"/>
<path class="kk" stroke-width="1.2" d="M1404.5 345 L1414.5 357.5"/>
<path class="kk" stroke-width="1.6" d="M1429.6 394 L1430.6 405 M1430.7 422 L1436 439 L1435 456"/>
<path d="M1450.5 414 L1455.5 416.5 L1453.6 423 Z" fill="#fff"/>
<path d="M1456.5 431 L1453.3 441.5 L1455 432 Z" fill="#fff"/>
<path d="M1432 424 L1437 437 L1433.5 431 Z" fill="#fff"/>
<path class="r" stroke-width="6" d="M1030 548.2 L1026.6 537.8 L1022.6 528 L1018.8 518.4 L1015.2 508.7 L1011.7 499.1 L1008.4 489.3 L1005.2 479.5 L1001.2 469.7"/>
<path class="r" stroke-width="7.4" d="M1446 469.6 L1444.4 479.9 L1442.1 490.1 L1439.2 500.1 L1435.7 510 L1431.7 519.7 L1427.1 529.2 L1422 538.5 L1416.4 547.5 L1410.3 556.3 L1403.7 564.8 L1396.7 573.1 L1389.3 581 L1381.4 588.6 L1373.1 595.9 L1364.5 602.9 L1355.4 609.4 L1346 615.6 L1336.2 621.3 L1326.1 626.6 L1315.4 631 L1304.5 634.9 L1293.3 638.2 L1282 640.7"/>
<path class="r" stroke-width="7.4" d="M1446 469.6 L1443.7 479.7 L1441 489.7 L1437.8 499.6 L1434.1 509.3 L1429.9 518.9 L1425.2 528.2 L1420 537.3 L1414.3 546.2 L1408.3 554.8 L1401.7 563.2 L1394.8 571.3 L1387.4 579.2 L1379.7 586.8 L1371.5 594 L1363 600.9 L1354.1 607.5 L1344.9 613.8 L1335.3 619.6 L1325.3 625.1 L1314.8 629.6 L1304.1 633.7 L1293.1 637.4 L1282 640.7"/>
<path class="rf" d="M1026.7 578 L1021 545 L1011.6 522 L1020 524 L1027.5 538 L1030 556 Z"/>
<path class="rf" d="M988 447 L999 462 L997.5 476 L993 462 Z"/>
<path class="rf" d="M991.8 473.5 L1000 478 L1002 490 Z"/>
<path class="rf" d="M1351.6 280.6 L1352.2 274.2 L1344.5 277 Z"/>
<path class="rf" d="M1308.9 262.4 L1311.6 257 L1301.3 259.8 Z"/>
<path class="rf" d="M1307.3 267.1 L1306.1 273.1 L1299.7 264.6 Z"/>
<path class="rf" d="M1239.8 248.3 L1230.5 241.8 L1231.8 247.9 Z"/>
<path class="rf" d="M1180.9 251.4 L1170.4 247.3 L1173 252.9 Z"/>
<path class="rf" d="M1003.4 403.1 L997.6 401.7 L1001.5 410.9 Z"/>
<path class="rf" d="M999.2 423.9 L993.4 422.4 L998.3 431.8 Z"/>
<path class="rf" d="M1003.2 465.4 L1010.2 473.4 L1004.2 473.3 Z"/>
<path class="rf" d="M1157.9 256.5 L1147.8 253.2 L1150.2 258.7 Z"/>
<path class="rf" d="M1075.7 296.9 L1065.7 297.2 L1069.4 301.9 Z"/>
<path class="rf" d="M1047.2 330.7 L1051.9 334.5 L1042.2 336.8 Z"/>
<path class="rf" d="M1010 382.9 L1004.1 381.6 L1007.2 390.4 Z"/>
<path class="rf" d="M1015.3 527.2 L1013.6 537.1 L1018.9 534.4 Z"/>
<path class="rf" d="M1042.2 561 L1051.4 562.7 L1047.2 567.1 Z"/>
<path class="kf" d="M1448.2 484.3 L1453.2 486.1 L1449.7 477.4 Z"/>
<path class="kf" d="M1441.6 504.6 L1446.4 506.9 L1443.9 498 Z"/>
<path class="kf" d="M1437.3 514.4 L1441.9 517 L1439.9 507.9 Z"/>
<circle cx="1224.4" cy="449" r="7.4" fill="#00f"/>
</g>
<g id="plot-c">
<line x1="582" y1="1029" x2="1079" y2="1029" stroke="#0a3c0a" stroke-width="8.2"/>
<line x1="582" y1="1029" x2="1079" y2="1029" stroke="#000" stroke-width="7"/>
<path d="M738.3 1243.8 L738.6 1242.1 L738.9 1239.9 L739.3 1237.3 L739.7 1234.4 L740.2 1231.3 L740.6 1228.3 L741 1225.4 L741.4 1222.7 L741.6 1220.4 L741.8 1218.5 L742 1216.7 L742.2 1215 L742.4 1213.1 L742.6 1210.9 L742.9 1208.1 L743.4 1204.7 L743.9 1200.5 L744.5 1195.8 L745.3 1190.7 L746 1185.1 L746.9 1179.2 L747.7 1173.2 L748.5 1167 L749.4 1160.7 L750.2 1154.1 L751.1 1146.9 L752 1139.3 L753 1131.7 L753.9 1124.2 L754.8 1117.1 L755.6 1110.6 L756.3 1105 L756.9 1100.3 L757.4 1096.4 L757.8 1093.1 L758.2 1090.2 L758.5 1087.5 L758.9 1084.9 L759.3 1082.2 L759.7 1079.2 L760.2 1076 L760.7 1072.7 L761.2 1069.5 L761.8 1066.3 L762.3 1063.1 L762.9 1059.9 L763.4 1056.7 L764 1053.6 L764.6 1050.5 L765.2 1047.5 L765.8 1044.5 L766.5 1041.5 L767.1 1038.6 L767.8 1035.6 L768.4 1032.6 L769.1 1029.5 L769.7 1026.5 L770.4 1023.5 L771 1020.4 L771.6 1017.4 L772.3 1014.4 L772.9 1011.4 L773.6 1008.4 L774.3 1005.4 L775 1002.4 L775.7 999.4 L776.5 996.4 L777.2 993.4 L778 990.4 L778.8 987.4 L779.7 984.4 L780.5 981.5 L781.3 978.6 L782 975.8 L782.8 973 L783.6 970.3 L784.3 967.5 L785.1 964.8 L785.9 962.1 L786.7 959.3 L787.6 956.5 L788.4 953.7 L789.3 950.9 L790.2 948.1 L791 945.3 L792 942.6 L792.9 939.9 L793.8 937.3 L794.8 934.7 L795.8 932 L796.9 929.5 L798 926.9 L799 924.4 L800.1 922 L801.3 919.7 L802.4 917.4 L803.6 915.2 L804.8 913 L806 910.9 L807.2 908.8 L808.5 906.9 L809.7 905 L811 903.1 L812.3 901.4 L813.6 899.7 L814.9 898.2 L816.2 896.8 L817.6 895.4 L819.1 893.9 L820.8 892.4 L822.6 890.7 L824.5 889 L826.6 887.1 L828.9 885.1 L831.3 883 L833.9 880.9 L836.5 878.7 L839.1 876.5 L841.8 874.3 L844.3 872.1 L846.8 870.1 L849.3 868 L851.9 865.9 L854.5 863.8 L857.1 861.6 L859.7 859.4 L862.3 857.1 L864.7 854.7 L867.2 852.2 L869.5 849.6 L871.8 846.9 L874 844.3 L876 841.7 L877.9 839.3 L879.6 837.2 L881.2 835.2 L882.7 833.4 L883.9 831.8 L885 830.3 L885.9 829.1 L886.7 828 L887.3 827.2 L887.9 826.5 L888.5 825.9 L889.3 825.3 L890.1 824.6 L890.8 824.1 L891.5 823.7 L892 823.4 L892.4 823.2 L892.5 823.2 L892.7 823.2 L893 823.2 L893.3 823.2 L893.3 823.1 L893.1 823.1 L892.9 822.9 L892.8 822.9 L893 823.1 L893.3 823.6 L893.8 824.5 L894.5 826 L895.2 827.9 L896 830.2 L896.8 832.8 L897.7 835.4 L898.8 838.2 L899.9 840.8 L901.1 843.2 L902.3 845.6 L903.5 848.1 L904.8 850.5 L906.2 852.9 L907.6 855.3 L909 857.7 L910.5 859.9 L912.1 862 L913.7 864 L915.4 866 L917.1 867.9 L918.8 869.7 L920.5 871.3 L922.2 872.9 L923.8 874.2 L925.4 875.5 L927 876.5 L928.7 877.5 L930.4 878.4 L932.1 879.1 L933.9 879.6 L935.8 880 L937.6 880.2 L939.4 880.2 L941.2 880.1 L943.1 879.8 L945 879.3 L946.8 878.6 L948.7 877.6 L950.4 876.5 L952.2 875.2 L953.9 873.8 L955.6 872.1 L957.3 870.3 L959 868.4 L960.7 866.3 L962.4 864.2 L964 862 L965.6 859.7 L967.1 857.3 L968.7 854.7 L970.3 851.9 L971.8 849.2 L973.2 846.4 L974.6 843.8 L975.9 841.3 L977 838.9 L978.1 836.7 L979.1 834.4 L979.9 832.3 L980.7 830.4 L981.3 828.6 L981.9 827.2 L982.4 826.1 L982.9 825.2 L983.4 824.4 L983.8 823.7 L984 823.4 L983.8 823.6 L982.5 824.5 L979.6 825.1 L976.9 824.2 L975.8 823.2 L975.7 823 L975.9 823.6 L976.4 824.8 L977.7 826 L978.3 827.7 L978.8 829.6 L979.4 831.6 L979.9 833.5 L980.4 835.4 L980.9 837.4 L981.4 839.5 L981.9 841.7 L982.4 843.9 L982.9 846.3 L983.3 848.6 L983.8 851.1 L984.3 853.5 L984.7 855.9 L985.1 858.3 L985.6 860.7 L986 863.3 L986.4 866.1 L986.8 869.2 L987.2 872.7 L987.7 876.6 L988.1 880.9 L988.5 885.5 L989 890.4 L989.4 895.4 L989.8 900.5 L990.3 905.5 L990.7 910.5 L991.2 915.4 L991.6 920.4 L992 925.4 L992.5 930.4 L992.9 935.4 L993.3 940.5 L993.8 945.5 L994.2 950.5 L994.7 955.5 L995.1 960.5 L995.5 965.5 L995.9 970.6 L996.4 975.6 L996.8 980.6 L997.2 985.6 L997.7 990.6 L998.2 995.4 L998.7 1000.1 L999.1 1004.7 L999.6 1009.3 L1000.1 1014 L1000.7 1019 L1001.3 1024.2 L1002 1029.7 L1002.8 1035.7 L1003.7 1042 L1004.6 1048.5 L1005.5 1055.2 L1006.5 1062.1 L1007.5 1069.1 L1008.6 1076 L1009.7 1082.9 L1010.8 1089.9 L1012 1097.1 L1013.2 1104.5 L1014.4 1111.8 L1015.7 1119.1 L1017 1126.2 L1018.3 1133 L1019.5 1139.4 L1020.7 1145.5 L1022 1151.4 L1023.2 1157 L1024.5 1162.4 L1025.7 1167.6 L1026.9 1172.5 L1028.2 1177.3 L1029.4 1181.9 L1030.7 1186.2 L1031.9 1190.2 L1033.1 1194 L1034.3 1197.7 L1035.6 1201.1 L1036.9 1204.4 L1038.2 1207.6 L1039.5 1210.8 L1040.9 1213.8 L1042.4 1216.7 L1043.9 1219.5 L1045.4 1222.1 L1046.9 1224.6 L1048.4 1226.9 L1049.8 1229.1 L1051.2 1231.2 L1052.6 1233.3 L1054 1235.3 L1055.4 1237.1 L1056.8 1238.9 L1058.1 1240.5 L1059.3 1241.9 L1060.4 1243.3 L1061.4 1244.5 L1062.4 1245.8 L1063.3 1247 L1064.2 1248.2 L1065 1249.3 L1065.7 1250.3 L1066.4 1251.1 L1066.9 1251.9 L1067.4 1252.5 L1076.6 1245.5 L1076.2 1245 L1075.7 1244.2 L1075 1243.3 L1074.3 1242.3 L1073.4 1241.2 L1072.6 1240.1 L1071.6 1238.8 L1070.6 1237.5 L1069.5 1236 L1068.3 1234.6 L1067.1 1233.1 L1065.8 1231.6 L1064.6 1230 L1063.3 1228.4 L1062.1 1226.7 L1060.8 1224.8 L1059.5 1222.8 L1058.1 1220.6 L1056.8 1218.5 L1055.4 1216.2 L1054 1213.8 L1052.7 1211.4 L1051.4 1208.8 L1050.1 1206 L1048.9 1203.2 L1047.6 1200.2 L1046.5 1197.1 L1045.3 1193.8 L1044.1 1190.4 L1043 1186.8 L1041.8 1182.9 L1040.6 1178.7 L1039.4 1174.3 L1038.2 1169.7 L1037 1164.8 L1035.7 1159.7 L1034.5 1154.4 L1033.3 1148.9 L1032.1 1143.2 L1030.9 1137.2 L1029.7 1130.8 L1028.4 1124.1 L1027.1 1117.1 L1025.9 1109.9 L1024.6 1102.5 L1023.4 1095.2 L1022.2 1088.1 L1021.1 1081.1 L1020.1 1074.2 L1019 1067.3 L1018 1060.4 L1017 1053.6 L1016.1 1046.9 L1015.2 1040.4 L1014.3 1034.2 L1013.6 1028.3 L1012.9 1022.7 L1012.2 1017.6 L1011.7 1012.7 L1011.2 1008.1 L1010.7 1003.5 L1010.2 998.9 L1009.7 994.3 L1009.3 989.4 L1008.8 984.5 L1008.3 979.6 L1007.9 974.6 L1007.5 969.6 L1007.1 964.6 L1006.6 959.5 L1006.2 954.5 L1005.8 949.5 L1005.3 944.5 L1004.9 939.5 L1004.5 934.4 L1004 929.4 L1003.6 924.3 L1003.2 919.4 L1002.7 914.4 L1002.3 909.5 L1001.8 904.5 L1001.4 899.5 L1001 894.4 L1000.5 889.4 L1000.1 884.5 L999.6 879.8 L999.2 875.4 L998.8 871.3 L998.3 867.7 L997.9 864.5 L997.4 861.5 L997 858.8 L996.6 856.2 L996.1 853.8 L995.7 851.4 L995.2 848.9 L994.7 846.4 L994.2 844 L993.7 841.5 L993.2 839.2 L992.7 836.9 L992.2 834.7 L991.6 832.5 L991.1 830.5 L990.5 828.5 L990 826.4 L989.4 824.4 L988.8 822.4 L989 820.2 L988.3 818.4 L987.4 816.6 L986.2 814.8 L984.1 812.9 L980.5 811.7 L976.6 812.4 L974.4 814 L973.3 815.4 L972.5 816.5 L971.8 817.6 L971.1 818.8 L970.3 820.3 L969.6 822 L968.9 823.7 L968.2 825.5 L967.5 827.4 L966.7 829.2 L965.9 831.1 L965 833.1 L963.9 835.2 L962.7 837.7 L961.3 840.2 L960 842.8 L958.6 845.4 L957.2 847.9 L955.8 850.2 L954.4 852.3 L953.1 854.2 L951.7 856.1 L950.3 858 L948.8 859.7 L947.4 861.3 L946.1 862.7 L944.9 863.8 L943.8 864.8 L942.9 865.5 L942.1 866 L941.4 866.3 L940.8 866.5 L940.2 866.7 L939.7 866.8 L939.1 866.8 L938.4 866.8 L937.7 866.8 L937.2 866.6 L936.6 866.5 L935.9 866.2 L935.1 865.8 L934.3 865.3 L933.3 864.6 L932.2 863.8 L931 862.8 L929.7 861.6 L928.3 860.3 L926.9 858.8 L925.5 857.2 L924.1 855.6 L922.7 853.9 L921.5 852.1 L920.2 850.3 L919 848.4 L917.8 846.3 L916.6 844.1 L915.4 841.9 L914.2 839.6 L913.1 837.4 L912.1 835.2 L911.2 833.1 L910.3 830.9 L909.5 828.5 L908.7 826 L907.8 823.5 L906.9 821 L905.9 818.6 L904.7 816.4 L903.3 814.5 L901.8 812.9 L900 811.6 L898 810.6 L896.1 810 L894.3 809.8 L892.8 809.8 L891.3 809.8 L889.6 810.1 L887.8 810.6 L886.2 811.3 L884.7 812.1 L883.3 813 L881.9 814 L880.7 815 L879.5 816.1 L878.2 817.3 L877.1 818.6 L876 819.9 L875.1 821.1 L874.2 822.4 L873.2 823.7 L872.1 825.1 L870.8 826.8 L869.2 828.8 L867.4 831 L865.5 833.4 L863.5 835.8 L861.5 838.3 L859.4 840.8 L857.3 843.1 L855.3 845.3 L853.1 847.3 L850.9 849.4 L848.5 851.4 L846 853.4 L843.5 855.5 L840.9 857.6 L838.3 859.7 L835.7 861.9 L833.1 864 L830.5 866.2 L827.9 868.4 L825.3 870.6 L822.7 872.8 L820.1 874.9 L817.7 877 L815.5 879 L813.5 880.9 L811.6 882.6 L809.9 884.2 L808.2 885.9 L806.5 887.6 L804.9 889.3 L803.3 891.2 L801.7 893.2 L800.1 895.3 L798.6 897.5 L797.2 899.8 L795.8 902 L794.5 904.4 L793.2 906.7 L792 909.1 L790.8 911.6 L789.6 914.1 L788.4 916.8 L787.3 919.4 L786.2 922.1 L785.2 924.8 L784.1 927.6 L783.1 930.3 L782.2 933.1 L781.2 936 L780.3 938.8 L779.4 941.7 L778.6 944.6 L777.8 947.5 L777 950.4 L776.2 953.3 L775.5 956.1 L774.7 958.9 L774 961.7 L773.2 964.5 L772.5 967.3 L771.8 970.1 L771.1 973 L770.4 975.8 L769.7 978.7 L769 981.6 L768.3 984.6 L767.5 987.7 L766.8 990.7 L766 993.8 L765.2 996.8 L764.5 999.9 L763.7 1003 L763 1006 L762.4 1009.1 L761.7 1012.1 L761.1 1015.2 L760.4 1018.2 L759.8 1021.2 L759.2 1024.3 L758.5 1027.3 L757.9 1030.3 L757.2 1033.3 L756.6 1036.3 L755.9 1039.3 L755.3 1042.3 L754.6 1045.4 L754 1048.5 L753.4 1051.6 L752.8 1054.8 L752.2 1058 L751.7 1061.2 L751.1 1064.5 L750.6 1067.8 L750.1 1071.1 L749.6 1074.3 L749.1 1077.6 L748.6 1080.6 L748.2 1083.4 L747.8 1086.1 L747.5 1088.8 L747.1 1091.7 L746.6 1095 L746.1 1099 L745.5 1103.6 L744.8 1109.2 L744 1115.7 L743.2 1122.9 L742.2 1130.4 L741.3 1138 L740.4 1145.5 L739.5 1152.7 L738.6 1159.3 L737.8 1165.5 L737 1171.7 L736.2 1177.8 L735.3 1183.6 L734.6 1189.2 L733.8 1194.4 L733.2 1199.1 L732.6 1203.3 L732.2 1206.8 L731.9 1209.7 L731.6 1212 L731.4 1213.9 L731.3 1215.7 L731.1 1217.3 L730.9 1219.2 L730.6 1221.3 L730.3 1223.9 L729.9 1226.8 L729.5 1229.8 L729 1232.8 L728.6 1235.7 L728.2 1238.4 L727.9 1240.6 L727.7 1242.2 Z" fill="#00f" stroke="#00f" stroke-width="0.6" stroke-linejoin="round"/>
<circle cx="733" cy="1243" r="5.4" fill="#00f"/>
<path class="b" stroke-width="8" d="M582 1243 C588.3 1243.2 608 1244 620 1244 C632 1244 640.7 1242.8 654 1243 C667.3 1243.2 687.3 1244.3 700 1245 C712.7 1245.7 713.3 1246.2 730 1247 C746.7 1247.8 778.3 1249 800 1250 C821.7 1251 843.3 1252 860 1253 C876.7 1254 888.3 1255.2 900 1256 C911.7 1256.8 920 1257.7 930 1258 C940 1258.3 948.3 1257.8 960 1258 C971.7 1258.2 986.7 1259 1000 1259 C1013.3 1259 1029.7 1258.5 1040 1258 C1050.3 1257.5 1056.7 1257.5 1062 1256 C1067.3 1254.5 1070.3 1250.2 1072 1249"/>
<path class="b" stroke-width="6" d="M640 1236 Q654 1218 664 1232"/>
<path class="b" stroke-width="7" d="M676 1232 Q690 1204 706 1216 L716 1238"/>
<path class="b" stroke-width="3.5" d="M596 1246 Q604 1250.5 612 1246 M672 1247 Q680 1251.5 688 1247 M780 1250.5 Q786 1254 794 1251.5 M832 1253 Q838 1256.5 846 1254"/>
<path class="r" stroke-width="8.6" d="M1069 1240 C1069.7 1241.2 1072.8 1244.8 1073 1247 C1073.2 1249.2 1071.8 1251.5 1070 1253 C1068.2 1254.5 1067 1255.3 1062 1256 C1057 1256.7 1050.3 1257 1040 1257.2 C1029.7 1257.5 1009 1257 1000 1257.5 C991 1258 990.7 1259.9 986 1260 C981.3 1260.1 976.3 1258.5 972 1258 C967.7 1257.5 967 1257.3 960 1257 C953 1256.7 937 1255.6 930 1256 C923 1256.4 922.2 1259.4 918 1259.5 C913.8 1259.6 911.3 1257.4 905 1256.5 C898.7 1255.6 887.5 1254.8 880 1254 C872.5 1253.2 868.3 1252.6 860 1252 C851.7 1251.4 840 1251 830 1250.5 C820 1250 811.7 1249.6 800 1249 C788.3 1248.4 771.7 1247.5 760 1247 C748.3 1246.5 740 1246.4 730 1246 C720 1245.6 711.7 1244.9 700 1244.5 C688.3 1244.1 673.3 1243.8 660 1243.5 C646.7 1243.2 632.7 1242.8 620 1242.5 C607.3 1242.2 590 1242.1 584 1242"/>
<path class="r" stroke-width="10.6" d="M728 1250 C728.3 1245.8 729.3 1233.3 730 1225 C730.7 1216.7 730.8 1214.2 732 1200 C733.2 1185.8 735.4 1157.4 737 1140 C738.6 1122.6 740.2 1108.8 741.4 1095.7 C742.6 1082.6 743.1 1072.4 744 1061.2 C744.9 1050 745.7 1037 746.6 1028.4 C747.5 1019.8 748.2 1018.3 749.2 1009.4 C750.2 1000.5 751.5 986.4 752.6 974.9 C753.7 963.4 754.9 951.9 756 940.4 C757.1 928.9 758.3 916 759.5 905.9 C760.7 895.8 761.8 889 763 880 C764.2 871 765.7 860.3 767 852 C768.3 843.7 769.7 835.5 771 830 C772.3 824.5 773.5 821.4 775 819 C776.5 816.6 779.2 816.1 780 815.5"/>
<path class="r" stroke-width="12.6" d="M771 830 C771.7 828.2 773.5 821.4 775 819 C776.5 816.6 778.3 815.5 780 815.5 C781.7 815.5 783.3 817.2 785 819 C786.7 820.8 787.5 823.3 790 826 C792.5 828.7 796.3 832.9 800 835 C803.7 837.1 808 838.6 812 838.5 C816 838.4 819.3 836.6 824 834.5 C828.7 832.4 834.7 827.8 840 826 C845.3 824.2 851.3 823.4 856 824 C860.7 824.6 864 828 868 829.5 C872 831 875.7 832.8 880 833 C884.3 833.2 889.7 832.5 894 831 C898.3 829.5 902 826.1 906 824 C910 821.9 914.3 818.8 918 818.5 C921.7 818.2 924.3 819.7 928 822 C931.7 824.3 936 829.5 940 832.5 C944 835.5 948 838.6 952 840 C956 841.4 960.8 842 964 841 C967.2 840 969 837.7 971 834 C973 830.3 974.3 823 976 819 C977.7 815 979.3 811.3 981 810 C982.7 808.7 984.4 809 986 811 C987.6 813 989.8 820.2 990.5 822"/>
<path class="r" stroke-width="14.6" d="M981 811 C981.8 811.1 984.4 809.7 986 811.5 C987.6 813.3 989.2 816.4 990.5 822 C991.8 827.6 992.8 836.7 994 845 C995.2 853.3 996.3 861.2 997.5 872 C998.7 882.8 999.8 897 1001 910 C1002.2 923 1003.3 936.7 1004.5 950 C1005.7 963.3 1006.7 976.8 1008 990 C1009.3 1003.2 1010.3 1013.7 1012.3 1029 C1014.3 1044.3 1017 1063.8 1019.9 1082 C1022.8 1100.2 1026.4 1121.9 1029.7 1138.3 C1033 1154.7 1036.2 1168.6 1039.5 1180.3 C1042.8 1192 1045.8 1200.5 1049.3 1208.4 C1052.8 1216.4 1057.2 1222.7 1060.5 1228 C1063.8 1233.3 1067.6 1238 1069 1240"/>
<path class="r" stroke-width="7" d="M926 819 C927.7 819.5 932.7 820.8 936 822 C939.3 823.2 942.3 825.7 946 826.5 C949.7 827.3 954.5 827.8 958 827 C961.5 826.2 964.2 824.5 967 822 C969.8 819.5 972.7 814.5 975 812 C977.3 809.5 980 807.8 981 807"/>
<path d="M946 834.2 Q956 837.2 965 832.2 Q956 835.2 946 834.2 Z" fill="#fff"/>
<path class="r" stroke-width="11.5" d="M586 1242 L640 1242.5 L700 1243.5 L728 1245"/>
<path class="r" stroke-width="6" d="M672 1234 C672.7 1230.7 674.3 1220.3 676 1214 C677.7 1207.7 679.7 1201.5 682 1196 C684.3 1190.5 687.3 1184.3 690 1181 C692.7 1177.7 695.3 1176.2 698 1176 C700.7 1175.8 703.5 1177 706 1180 C708.5 1183 710.8 1188.2 713 1194 C715.2 1199.8 717 1207.3 719 1215 C721 1222.7 724 1235.8 725 1240"/>
<path class="r" stroke-width="5.5" d="M680 1234 C680.7 1230.3 682.3 1218 684 1212 C685.7 1206 687.7 1201.4 690 1198 C692.3 1194.6 695.3 1191.8 698 1191.5 C700.7 1191.2 703.7 1192.9 706 1196 C708.3 1199.1 711 1207.7 712 1210"/>
<path class="r" stroke-width="5.5" d="M688 1236 C689 1232.3 691.8 1219.2 694 1214 C696.2 1208.8 698.3 1206.5 701 1205 C703.7 1203.5 707.5 1202.2 710 1205 C712.5 1207.8 715 1219.2 716 1222"/>
<path class="rf" d="M696 1240 L701 1214 L709 1204 L716 1210 L723 1240 Z"/>
<path class="rf" stroke="#f00" stroke-width="1" stroke-linejoin="round" d="M582 1239 L585 1235.5 L588 1233 L593 1232 L598 1234 L600 1231 L602 1228 L607 1225 L611 1226.5 L613 1229 L617 1232 L619 1227 L621 1222 L624 1218.5 L627 1217 L630 1218 L633 1220 L638 1221 L641.5 1222.5 L644 1225 L647 1230 L652 1232 L656 1227 L658 1222 L660 1216.5 L662 1213 L665 1210.3 L668 1209.6 L671 1210.3 L674 1212 L676.5 1215.5 L678 1220 L680 1226 L684 1232 L690 1240 L690 1248 L582 1248 Z"/>
<ellipse cx="667.6" cy="1220.3" rx="2" ry="2.6" fill="#fff"/>
<path class="r" stroke-width="5" d="M588 1247 Q594 1251 600 1247 Q608 1251 616 1247 M636 1248 Q642 1252 650 1248 Q660 1253 668 1248 M726 1250 Q729 1256 732 1250"/>
<circle cx="627.4" cy="1224.6" r="1" fill="#fff"/>
<line x1="583" y1="829.5" x2="1076" y2="829.5" stroke="#000" stroke-opacity="0.55" stroke-width="1.1"/>
<line x1="583" y1="1238.7" x2="1076" y2="1238.7" stroke="#000" stroke-opacity="0.34" stroke-width="1.7"/>
<line class="k" x1="583" y1="829.5" x2="587" y2="829.5" stroke-width="2"/>
<rect x="1073.6" y="826" width="3" height="7" fill="#000"/>
<rect x="1062.5" y="801" width="3.5" height="2.6" fill="#000"/>
<path d="M579 798.3 H1079.8 M1079.8 798.3 V1266.2 M1079.8 1266.2 H579" fill="none" stroke="#000" stroke-width="7.2" stroke-linecap="butt"/>
<path d="M579 1266.2 V798.3" fill="none" stroke="#000" stroke-width="7.8" stroke-linecap="butt"/>
<text class="sans" font-size="37.4" text-anchor="end" x="572.6" y="843.4">0.0005</text>
<text class="sans" font-size="37.4" text-anchor="end" x="572.6" y="1042.8">0</text>
<text class="sans" font-size="37.4" text-anchor="end" x="572.6" y="1252">-0.0005</text>
<text class="sans" font-size="38" x="532.3" y="1306.2" textLength="89.5" lengthAdjust="spacingAndGlyphs">0.391</text>
<text class="sans" font-size="38" x="1014.8" y="1306.2" textLength="89.5" lengthAdjust="spacingAndGlyphs">0.691</text>
<text class="serif" font-size="36.6" x="696.3" y="1347.5" textLength="259.5" lengthAdjust="spacingAndGlyphs">X-coordinate [m]</text>
<text class="serif" font-size="36.8" transform="translate(427.4 1160.3) rotate(-90)" x="0" y="0" textLength="253.6" lengthAdjust="spacingAndGlyphs">Y-coordinate[m]</text>
<text class="serif" font-size="40" x="792.5 808.5 830.5" y="1383.4 1386.4 1383.4">(c)</text>
</g>
</svg>
</body>
</html>
